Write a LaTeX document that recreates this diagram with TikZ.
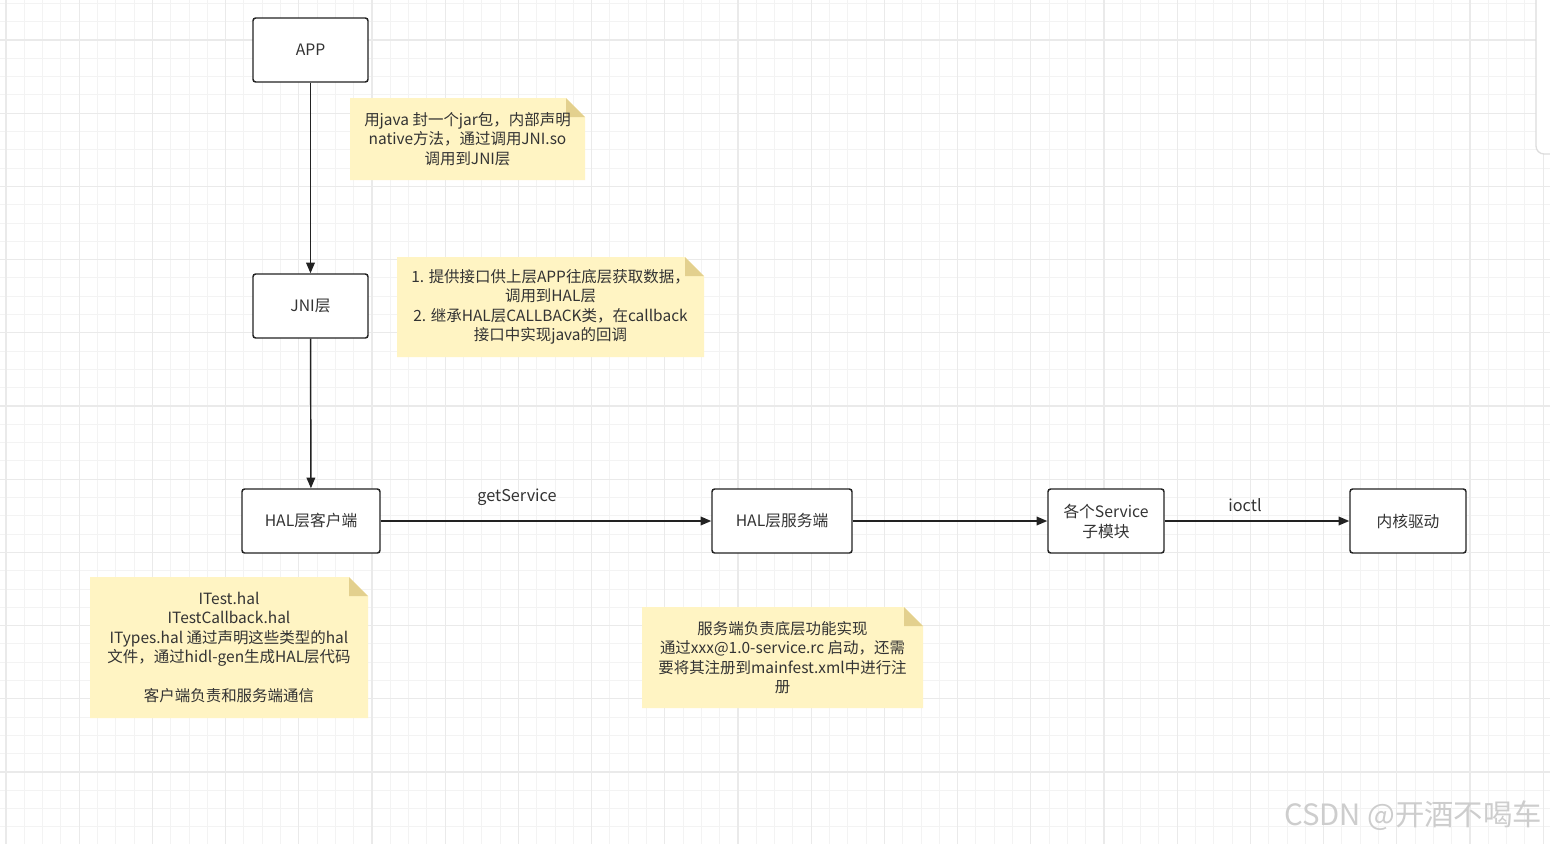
\documentclass[tikz,border=0pt]{standalone}
\usepackage{fontspec}
\setmainfont{Noto Sans CJK SC}
\usetikzlibrary{arrows.meta}
\definecolor{gridminor}{HTML}{F3F3F3}
\definecolor{gridmajor}{HTML}{EAEAEA}
\definecolor{notebg}{HTML}{FFF4C3}
\definecolor{notefold}{HTML}{E3D08E}
\definecolor{txt}{HTML}{333333}
\definecolor{edgec}{HTML}{222222}
\definecolor{panelc}{HTML}{DDDDDD}
\definecolor{wmark}{HTML}{CDCDCD}
\newcommand\stickynote[6]{%
  \fill[notebg] (#2,#3) -- ({#4-19},#3) -- (#4,{#3+19}) -- (#4,#5) -- (#2,#5) -- cycle;
  \fill[notefold] ({#4-19},#3) -- (#4,{#3+19}) -- ({#4-19},{#3+19}) -- cycle;
  \node[notetext] (#1) at ({(#2+#4)/2},{(#3+#5)/2}) {#6};}
\begin{document}
\begin{tikzpicture}[x=0.75pt,y=-0.75pt,
  box/.style={draw=edgec, line width=1.1pt, rounded corners=2pt, fill=white, text=txt,
    font=\fontsize{11.8pt}{15pt}\selectfont, align=center, inner sep=0pt, minimum height=48pt},
  conn/.style={draw=edgec, line width=1.1pt, -{Triangle[length=8pt,width=6.5pt]}},
  notetext/.style={text=txt, font=\fontsize{11.6pt}{14.6pt}\selectfont, align=center, inner sep=0pt},
  elabel/.style={text=txt, font=\fontsize{12.2pt}{14pt}\selectfont, inner sep=0pt}]
\useasboundingbox (0,0) rectangle (1550,844);
\fill[white] (0,0) rectangle (1550,844);
% grid
\foreach \i in {0,...,84} { \draw[gridminor, line width=0.75pt] ({6+18.3*\i},0) -- ({6+18.3*\i},844); }
\foreach \i in {0,...,46} { \draw[gridminor, line width=0.75pt] (0,{3.4+18.3*\i}) -- (1550,{3.4+18.3*\i}); }
\foreach \i in {0,...,21} { \draw[gridmajor, line width=1pt] ({6+73.2*\i},0) -- ({6+73.2*\i},844); }
\foreach \i in {0,...,11} { \draw[gridmajor, line width=1pt] (0,{40+73.2*\i}) -- (1550,{40+73.2*\i}); }
% side panel edge
\path[fill=white, draw=panelc, line width=1pt, rounded corners=6pt] (1536,-10) -- (1536,154) -- (1570,154) -- (1570,-10) -- cycle;
% nodes
\node[box, minimum width=86.25pt] (app) at (310.5,50) {APP};
\node[box, minimum width=86.25pt] (jni) at (310.5,306) {JNI层};
\node[box, minimum width=103.5pt] (halc) at (311,521) {HAL层客户端};
\node[box, minimum width=105pt] (hals) at (782,521) {HAL层服务端};
\node[box, minimum width=87pt] (svc) at (1106,521) {各个Service\\子模块};
\node[box, minimum width=87pt] (kern) at (1408,521) {内核驱动};
% connectors
\draw[conn] (app) -- (jni);
\draw[conn] (jni) -- (halc);
\draw[conn] (halc) -- (hals);
\draw[conn] (hals) -- (svc);
\draw[conn] (svc) -- (kern);
\node[elabel] (lgs) at (517,497) {getService};
\node[elabel] (lio) at (1245,505) {ioctl};
% notes
\stickynote{n1}{350}{98}{585}{180}{用java 封一个jar包，内部声明\\native方法，通过调用JNI.so\\调用到JNI层}
\stickynote{n2}{397}{257}{704}{357}{1. 提供接口供上层APP往底层获取数据，\\调用到HAL层\\2. 继承HAL层CALLBACK类，在callback\\接口中实现java的回调}
\stickynote{n3}{90}{577}{368}{718}{ITest.hal\\ITestCallback.hal\\ITypes.hal 通过声明这些类型的hal\\文件，通过hidl-gen生成HAL层代码\\[14.6pt]客户端负责和服务端通信}
\stickynote{n4}{642}{607}{923}{708}{服务端负责底层功能实现\\通过xxx@1.0-service.rc 启动，还需\\要将其注册到mainfest.xml中进行注\\册}
% watermark
\node[text=wmark, font=\fontsize{22pt}{26pt}\selectfont, inner sep=0pt] (wm) at (1413,816) {CSDN @开酒不喝车};
\end{tikzpicture}
\end{document}
